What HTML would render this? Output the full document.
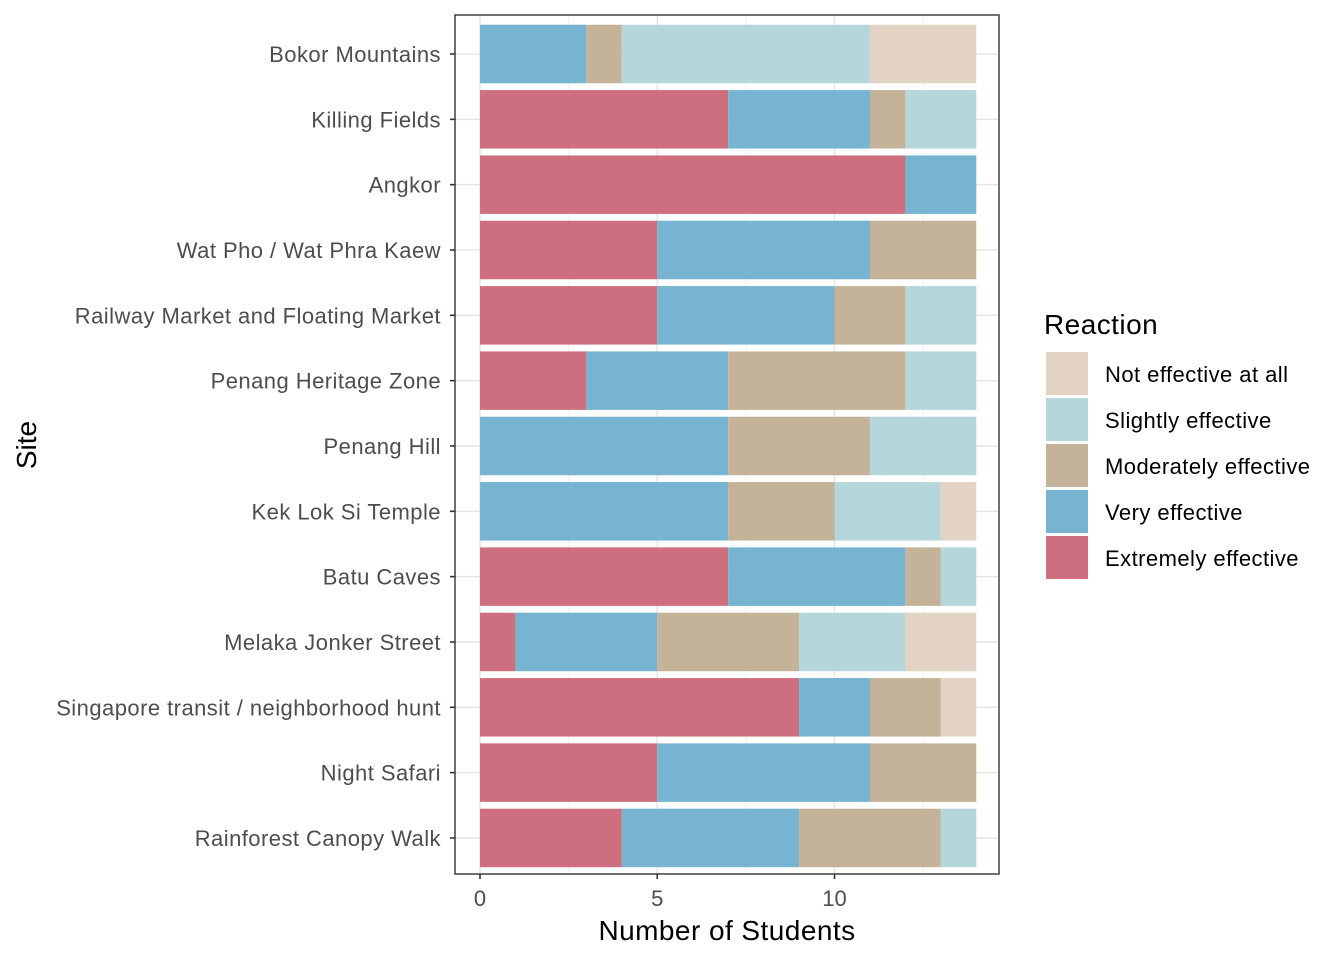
<!DOCTYPE html>
<html><head><meta charset="utf-8"><style>
body{margin:0;background:#fff;font-family:"Liberation Sans",Arial,sans-serif;}
</style></head><body>
<svg id="chart" width="1344" height="960" xmlns="http://www.w3.org/2000/svg"></svg>
<script>
const sites = ["Bokor Mountains","Killing Fields","Angkor","Wat Pho / Wat Phra Kaew","Railway Market and Floating Market","Penang Heritage Zone","Penang Hill","Kek Lok Si Temple","Batu Caves","Melaka Jonker Street","Singapore transit / neighborhood hunt","Night Safari","Rainforest Canopy Walk"];
const extremely = [0,7,12,5,5,3,0,0,7,1,9,5,4];
const very      = [3,4,2,6,5,4,7,7,5,4,2,6,5];
const moderately= [1,1,0,3,2,5,4,3,1,4,2,3,4];
const slightly  = [7,2,0,0,2,2,3,3,1,3,0,0,1];
const notEff    = [3,0,0,0,0,0,0,1,0,2,1,0,0];
const xTicks = [0,5,10];
const seriesNames = ["Extremely effective","Very effective","Moderately effective","Slightly effective","Not effective at all"];
const seriesColors = ["#CD6F7F","#76B4D1","#C5B399","#B5D7DB","#E3D3C4"];
const series = [extremely,very,moderately,slightly,notEff];

const svg = document.getElementById('chart');
const NS = "http://www.w3.org/2000/svg";
function mk(tag, attrs, parent){const e=document.createElementNS(NS,tag);for(const k in attrs)e.setAttribute(k,attrs[k]);(parent||svg).appendChild(e);return e;}
const PL=455, PR=999, PT=15, PB=874;
const x0=480, pxPerUnit=35.45;
const xs = v => x0 + v*pxPerUnit;
const rowStep=65.33;
const yc = i => 54 + rowStep*i;
const barH = 58.5;
const LS = 'letter-spacing:0.45px';

for (let v=2.5; v<14; v+=5){const g=mk('line',{x1:xs(v),x2:xs(v),y1:PT,y2:PB,stroke:'#f0f0f0','stroke-width':1});}
xTicks.forEach(v=>{const g=mk('line',{x1:xs(v),x2:xs(v),y1:PT,y2:PB,stroke:'#e6e6e6','stroke-width':1.6});});
sites.forEach((s,i)=>{const g=mk('line',{x1:PL,x2:PR,y1:yc(i),y2:yc(i),stroke:'#e6e6e6','stroke-width':1.6});});

sites.forEach((s,i)=>{
  let cum=0;
  series.forEach((arr,k)=>{
    const v=arr[i];
    if(v>0){
      const r=mk('rect',{x:xs(cum),y:yc(i)-barH/2,width:v*pxPerUnit,height:barH,fill:seriesColors[k]});
      
      
    }
    cum+=v;
  });
  const t=mk('text',{x:PL-14,y:yc(i)+8,'text-anchor':'end','font-size':22,fill:'#4d4d4d',style:LS});
  t.textContent=s;
  
  
  const tk=mk('line',{x1:PL-5,x2:PL,y1:yc(i),y2:yc(i),stroke:'#333','stroke-width':1.6});
  
  
});
const frame=mk('rect',{x:PL,y:PT,width:PR-PL,height:PB-PT,fill:'none',stroke:'#333','stroke-width':1.4});


xTicks.forEach(v=>{
  const tk=mk('line',{x1:xs(v),x2:xs(v),y1:PB,y2:PB+5,stroke:'#333','stroke-width':1.6});
  
  
  const t=mk('text',{x:xs(v),y:PB+32,'text-anchor':'middle','font-size':22,fill:'#4d4d4d'});
  t.textContent=v;
  
  
});
const xt=mk('text',{x:(PL+PR)/2,y:940,'text-anchor':'middle','font-size':28,fill:'#000',style:LS});
xt.textContent='Number of Students';


const yt=mk('text',{x:0,y:0,'text-anchor':'middle','font-size':28,fill:'#000',transform:'translate(36,445) rotate(-90)'});
yt.textContent='Site';



const lt=mk('text',{x:1044,y:334,'font-size':28,fill:'#000',style:LS});
lt.textContent='Reaction';


for(let j=0;j<5;j++){
  const k=4-j;
  const y=352+j*46;
  const r=mk('rect',{x:1046,y:y,width:42,height:43,fill:seriesColors[k]});
  
  
  const t=mk('text',{x:1105,y:y+30,'font-size':22,fill:'#000',style:LS});
  t.textContent=seriesNames[k];
  
  
}
</script>
</body></html>
